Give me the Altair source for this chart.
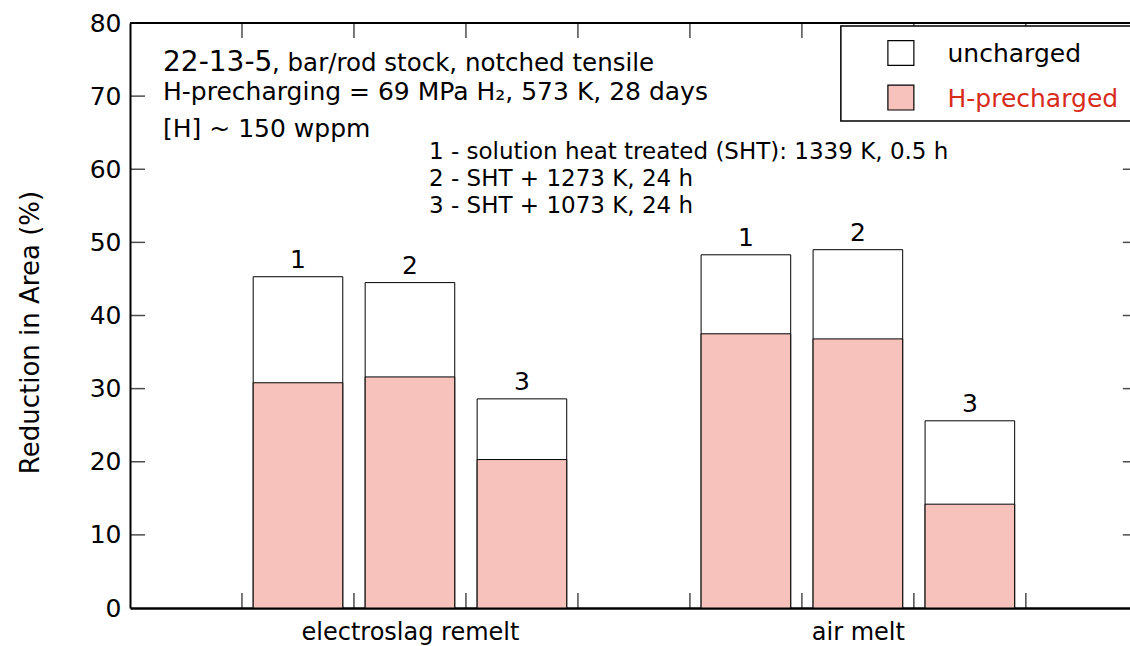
import altair as alt
import pandas as pd

FONT = "DejaVu Sans"
PINK = "#f6c2bb"
RED = "#d92b1c"

# ---- data ----
groups = ["electroslag remelt", "air melt"]
conditions = ["1", "2", "3"]
uncharged = [45.3, 44.5, 28.6, 48.3, 49.0, 25.6]
precharged = [30.8, 31.6, 20.3, 37.5, 36.8, 14.2]

x_tick_values = [1, 2, 3, 4, 5, 6, 7, 8]
y_tick_values = [0, 10, 20, 30, 40, 50, 60, 70, 80]
y_inner_ticks = [10, 20, 30, 40, 50, 60, 70]

legend_labels = ["uncharged", "H-precharged"]
legend_fills = ["white", PINK]
legend_text_colors = ["black", RED]

annot_text = [
    "22-13-5",
    ", bar/rod stock, notched tensile",
    "H-precharging = 69 MPa H\u2082, 573 K, 28 days",
    "[H] ~ 150 wppm",
    "1 - solution heat treated (SHT): 1339 K, 0.5 h",
    "2 - SHT + 1273 K, 24 h",
    "3 - SHT + 1073 K, 24 h",
]

# ---- build tables ----
rows = []
for gi, g in enumerate(groups):
    for ci, c in enumerate(conditions):
        k = gi * len(conditions) + ci
        pos = 1.5 + gi * 4 + ci
        rows.append(dict(group=g, cond=c, pos=pos, x0=pos - 0.4, x1=pos + 0.4,
                         unch=uncharged[k], pre=precharged[k]))
df = pd.DataFrame(rows)
group_centers = [float(df[df.group == g].pos.mean()) for g in groups]

annot_df = pd.DataFrame({
    "t": annot_text,
    "x": [0.295, 1.268, 0.295, 0.295, 2.67, 2.67, 2.67],
    "y": [73.48, 73.48, 69.47, 64.4, 61.40, 57.71, 54.02],
    "size": [28, 24.5, 25, 25, 23, 23, 23],
})

leg_df = pd.DataFrame({
    "label": legend_labels,
    "fill": legend_fills,
    "tcolor": legend_text_colors,
    "sx0": [6.768, 6.768], "sx1": [7.0, 7.0],
    "sy0": [74.2, 68.1], "sy1": [77.6, 71.5],
    "tx": [7.30, 7.30], "ty": [74.7, 68.5],
})

xscale = alt.Scale(domain=[0, 8.93], nice=False, zero=False)
yscale = alt.Scale(domain=[0, 80], nice=False, zero=False)

label_expr = f"datum.value < {(group_centers[0] + group_centers[1]) / 2} ? '{groups[0]}' : '{groups[1]}'"

x_axis = alt.Axis(values=group_centers, labelExpr=label_expr, title=None, ticks=False,
                  grid=False, domain=True, domainColor="black", domainWidth=2.5,
                  labelFontSize=24, labelFont=FONT, labelColor="black", labelPadding=12,
                  labelFlush=False, labelOverlap=False, labelLimit=0)
y_axis = alt.Axis(values=y_tick_values, ticks=False, grid=False, domain=True,
                  domainColor="black", domainWidth=2, labelFontSize=25, labelFont=FONT,
                  labelColor="black", labelPadding=9, labelOverlap=False, labelFlush=False,
                  title="Reduction in Area (%)", titleFontSize=26, titleFont=FONT,
                  titleFontWeight="normal", titleColor="black", titleX=-100, titleY=309,
                  titleBaseline="middle", titleAngle=270, titleAlign="center")

base = alt.Chart(df)

unch_bars = base.mark_bar(fill="white", stroke="black", strokeWidth=1).encode(
    x=alt.X("x0:Q", scale=xscale, axis=x_axis),
    x2="x1:Q",
    y=alt.Y("unch:Q", scale=yscale, axis=y_axis),
    y2=alt.datum(0),
)
pre_bars = base.mark_bar(fill=PINK, stroke="black", strokeWidth=1).encode(
    x=alt.X("x0:Q", scale=xscale),
    x2="x1:Q",
    y=alt.Y("pre:Q", scale=yscale),
    y2=alt.datum(0),
)
bar_labels = base.mark_text(dy=-9, baseline="alphabetic", fontSize=25, font=FONT,
                            color="black").encode(
    x=alt.X("pos:Q", scale=xscale), y=alt.Y("unch:Q", scale=yscale), text="cond:N")

xt = alt.Chart(pd.DataFrame({"v": x_tick_values}))
yt = alt.Chart(pd.DataFrame({"v": y_inner_ticks}))
TICK = 15
bottom_ticks = xt.mark_tick(orient="vertical", size=TICK, thickness=1.5, color="black",
                            yOffset=-TICK / 2).encode(x=alt.X("v:Q", scale=xscale), y=alt.datum(0))
top_ticks = xt.mark_tick(orient="vertical", size=TICK, thickness=1.5, color="black",
                         yOffset=TICK / 2).encode(x=alt.X("v:Q", scale=xscale), y=alt.datum(80))
left_ticks = yt.mark_tick(orient="horizontal", size=TICK, thickness=1.5, color="black",
                          xOffset=TICK / 2).encode(y=alt.Y("v:Q", scale=yscale), x=alt.datum(0))
right_ticks = yt.mark_tick(orient="horizontal", size=TICK, thickness=1.5, color="black",
                           xOffset=-TICK / 2).encode(y=alt.Y("v:Q", scale=yscale), x=alt.datum(9.0))
top_line = alt.Chart(pd.DataFrame({"a": [0]})).mark_rule(color="black", strokeWidth=2).encode(
    y=alt.datum(80), x=alt.datum(0), x2=alt.datum(8.93))

annots = alt.Chart(annot_df).mark_text(align="left", baseline="alphabetic", font=FONT,
                                       color="black").encode(
    x=alt.X("x:Q", scale=xscale), y=alt.Y("y:Q", scale=yscale), text="t:N",
    size=alt.Size("size:Q", scale=None, legend=None))

leg_box = alt.Chart(pd.DataFrame({"a": [0]})).mark_rect(fill="white", stroke="black",
                                                         strokeWidth=1.5).encode(
    x=alt.datum(6.348), x2=alt.datum(9.3), y=alt.datum(79.6), y2=alt.datum(66.6))
leg_sq = alt.Chart(leg_df).mark_rect(stroke="black", strokeWidth=1.2).encode(
    x=alt.X("sx0:Q", scale=xscale), x2="sx1:Q",
    y=alt.Y("sy0:Q", scale=yscale), y2="sy1:Q",
    fill=alt.Fill("fill:N", scale=None, legend=None))
leg_txt = alt.Chart(leg_df).mark_text(align="left", baseline="alphabetic", font=FONT,
                                      fontSize=25).encode(
    x=alt.X("tx:Q", scale=xscale), y=alt.Y("ty:Q", scale=yscale), text="label:N",
    color=alt.Color("tcolor:N", scale=None, legend=None))

chart = alt.layer(
    bottom_ticks, top_ticks, left_ticks, right_ticks,
    unch_bars, pre_bars, bar_labels, top_line, annots,
    leg_box, leg_sq, leg_txt,
).properties(
    width=1000, height=585,
    autosize=alt.AutoSizeParams(type="none"),
    padding={"left": 130, "top": 23, "right": 0, "bottom": 38},
    background="white",
).configure_view(stroke=None)

chart.save("out.html", embed_options={"renderer": "svg", "actions": False})
